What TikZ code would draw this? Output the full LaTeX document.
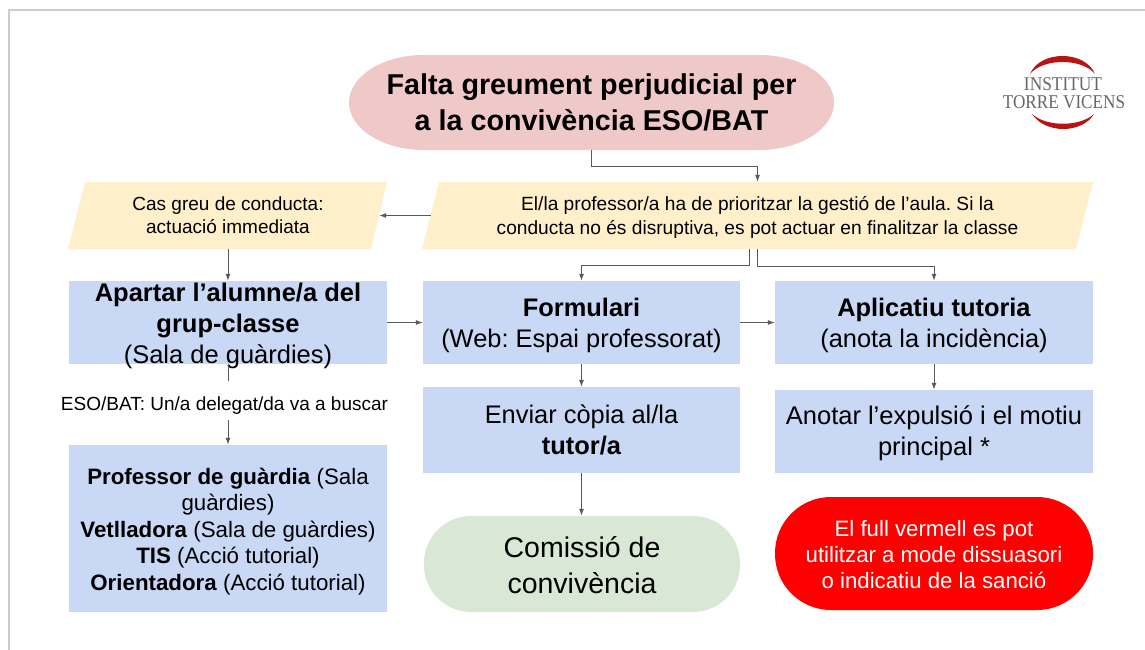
\documentclass[tikz,border=0pt]{standalone}
\usepackage{fontspec}
\setmainfont{Liberation Sans}
\newfontfamily\logofont{Liberation Serif}
\usetikzlibrary{arrows.meta}
\definecolor{pinkfill}{HTML}{EFC8C8}
\definecolor{notefill}{HTML}{FFF0CB}
\definecolor{bluefill}{HTML}{C9D8F5}
\definecolor{greenfill}{HTML}{D9E8D4}
\definecolor{linegray}{HTML}{595959}
\definecolor{framegray}{HTML}{CCCCCC}
\definecolor{logored}{HTML}{B81414}
\newcommand{\fs}[2]{\fontsize{#1}{#2}\selectfont\frenchspacing}
\newcommand{\boxtext}[4][316pt]{\parbox[c][#2][c]{#1}{\centering\vspace*{#3}#4}}
\begin{document}
\begin{tikzpicture}[x=1pt, y=-1pt,
every node/.style = {shape=rectangle, align=center, inner sep=0pt},
link/.style = {draw=linegray, line width=1pt, -{Latex[length=7pt,width=5pt]}},
plainlink/.style = {draw=linegray, line width=1pt},
bluebox/.style = {fill=bluefill, minimum width=318pt, minimum height=83pt},
notebox/.style = {minimum height=67pt}]
\useasboundingbox (0,0) rectangle (1145,650);
\fill[white] (0,0) rectangle (1145,650);
\draw[framegray, line width=1.7pt] (9,650) -- (9,10) -- (1145,10);
% slanted backgrounds
\fill[notefill] (85,182) -- (387,182) -- (371,249) -- (68,249) -- cycle;
\fill[notefill] (439,182) -- (1093,182) -- (1076,249) -- (422,249) -- cycle;
\fill[pinkfill] (424,55) -- (759,55) arc[x radius=75pt, y radius=47.5pt, start angle=90, end angle=-90]
	-- (424,150) arc[x radius=75pt, y radius=47.5pt, start angle=270, end angle=90] -- cycle;
% logo
\fill[logored] (1030,74) .. controls (1040,50) and (1085,50) .. (1095,74)
	.. controls (1082,58) and (1043,58) .. cycle;
\fill[logored] (1032,114) .. controls (1045,134) and (1082,134) .. (1094,114)
	.. controls (1080,127) and (1046,127) .. cycle;
\node[text=black!60, font=\logofont\fs{19.5}{22}] (logoa) at (1063,84) {\scalebox{0.89}[1]{INSTITUT}};
\node[text=black!60, font=\logofont\fs{19.5}{22}] (logob) at (1064,102) {\scalebox{0.88}[1]{TORRE VICENS}};

\node[minimum width=485pt, minimum height=95pt,
	font=\bfseries\fs{28.7}{36}] (falta) at (591.5,102.5)
	{Falta greument perjudicial per\\a la convivència ESO/BAT};
\node[notebox, minimum width=302pt, font=\fs{19}{23}] (casgreu) at (228,215.5)
	{Cas greu de conducta:\\actuació immediata};
\node[notebox, minimum width=653pt, font=\fs{19.15}{23.5}] (gestio) at (757.5,215.5)
	{\boxtext[653pt]{67pt}{4pt}{El/la professor/a ha de prioritzar la gestió de l’aula. Si la\\conducta no és disruptiva, es pot actuar en finalitzar la classe}};
\node[bluebox, font=\fs{25.5}{31}] (apartar) at (228,322.5)
	{\boxtext{83pt}{6pt}{\textbf{Apartar l’alumne/a del\\grup-classe}\\(Sala de guàrdies)}};
\node[bluebox, minimum width=317pt, font=\fs{25.4}{31}] (formulari) at (581.5,322.5)
	{\boxtext{83pt}{5pt}{\textbf{Formulari}\\(Web: Espai professorat)}};
\node[bluebox, font=\fs{25.4}{31}] (aplicatiu) at (934,322.5)
	{\boxtext{83pt}{5pt}{\textbf{Aplicatiu tutoria}\\(anota la incidència)}};
\node[font=\fs{19}{23}, minimum height=28pt] (delegat) at (224.5,406)
	{ESO/BAT: Un/a delegat/da va a buscar};
\node[bluebox, minimum width=317pt, minimum height=86pt, font=\fs{25.4}{31}] (enviar) at (581.5,430)
	{Enviar còpia al/la\\\textbf{tutor/a}};
\node[bluebox, font=\fs{25.5}{31}] (anotar) at (934,431.5)
	{\boxtext{83pt}{4pt}{Anotar l’expulsió i el motiu\\principal *}};
\node[bluebox, minimum height=167pt, font=\fs{22.3}{26.5}] (guardia) at (228,528.5)
	{\boxtext{167pt}{6pt}{\textbf{Professor de guàrdia} (Sala\\guàrdies)\\\textbf{Vetlladora} (Sala de guàrdies)\\\textbf{TIS} (Acció tutorial)\\\textbf{Orientadora} (Acció tutorial)}};
\node[fill=greenfill, rounded corners=47pt, minimum width=316pt, minimum height=96pt,
	font=\fs{28.5}{36}] (comissio) at (582,564)
	{\boxtext{96pt}{2pt}{Comissió de\\convivència}};
\node[fill=red, text=white, rounded corners=56pt, minimum width=318pt, minimum height=113pt,
	font=\fs{22.2}{26}] (fullvermell) at (934,553.5)
	{\boxtext{113pt}{2pt}{El full vermell es pot\\utilitzar a mode dissuasori\\o indicatiu de la sanció}};

\draw[link] (falta.south) -- ++(0,16) -| (gestio.north);
\draw[link] (gestio.west) -- (casgreu.east);
\draw[link] ([xshift=-8pt]gestio.south) -- ++(0,16) -| (formulari.north);
\draw[link] (gestio.south) -- ++(0,17) -| (aplicatiu.north);
\draw[link] (casgreu.south) -- (apartar.north);
\draw[plainlink] (apartar.south) -- ++(0,17);
\draw[link] (guardia.north |- delegat.south) -- (guardia.north);
\draw[link] (apartar.east) -- (formulari.west);
\draw[link] (formulari.east) -- (aplicatiu.west);
\draw[link] (formulari.south) -- (enviar.north);
\draw[link] (aplicatiu.south) -- (anotar.north);
\draw[link] (enviar.south) -- (comissio.north -| enviar.south);
\end{tikzpicture}
\end{document}
